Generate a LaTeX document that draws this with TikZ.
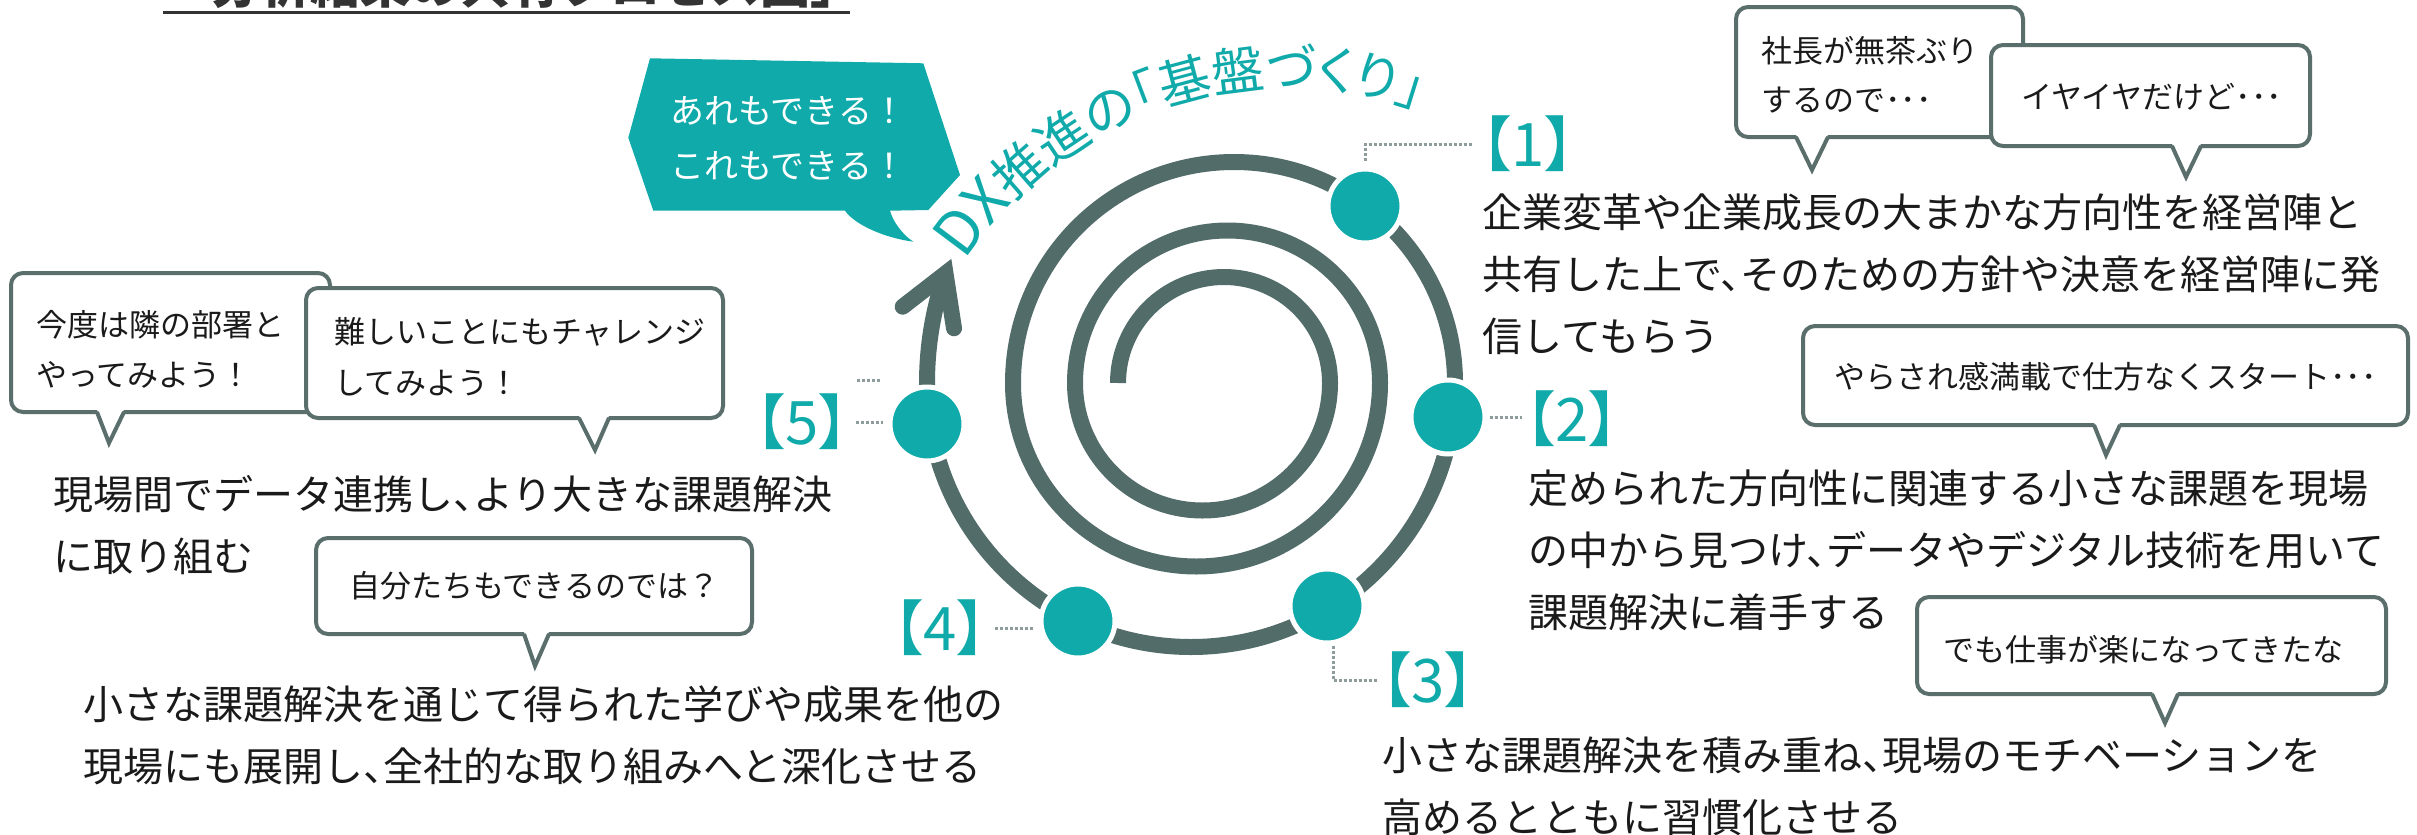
\documentclass[tikz,border=0pt]{standalone}
\usepackage{fontspec}
\setmainfont{Noto Sans CJK JP}
\newfontfamily\jpp[RawFeature=+palt]{Noto Sans CJK JP}
\usetikzlibrary{decorations.text,fit}
\definecolor{teal2}{HTML}{11AAAA}
\definecolor{spiral}{HTML}{526C6A}
\definecolor{balgray}{HTML}{5A6E6C}
\definecolor{dotgray}{HTML}{8E9C9B}
\definecolor{ink}{HTML}{1A1A1A}
\definecolor{titlegray}{HTML}{333333}
\newcommand\jcomma{、\kern-.5em}
\newcommand\mybal[9]{%
  \coordinate (#1nw) at (#2,-#3);
  \coordinate (#1se) at (#4,-#5);
  \node[balframe, fit=(#1nw)(#1se)] (#1) {};
  \coordinate (#1tip) at (#8,-#9);
  \fill[white] (#6,-#5+2.5) -- (#1tip) -- (#7,-#5+2.5) -- cycle;
  \draw[balline] (#6,-#5) -- (#1tip) -- (#7,-#5);
}
\begin{document}
\begin{tikzpicture}[x=1pt,y=1pt,
  spiralline/.style={draw=spiral, line width=16pt, line cap=butt},
  dot/.style={circle, fill=teal2, draw=white, line width=5pt, minimum size=74pt, inner sep=0pt},
  lab/.style={font=\jpp\fontsize{60}{60}\selectfont, text=teal2, inner sep=0pt},
  leader/.style={draw=dotgray, line width=3pt, dash pattern=on 3pt off 2pt},
  body/.style={font=\fontsize{40}{62}\selectfont, text=ink, inner sep=0pt, anchor=base west},
  baltext/.style={font=\fontsize{31}{49}\selectfont, text=ink, inner sep=0pt, anchor=base west},
  balframe/.style={draw=balgray, line width=4pt, rounded corners=12pt, fill=white, inner sep=0pt},
  balline/.style={draw=balgray, line width=4pt, line join=miter},
  title/.style={font=\bfseries\fontsize{50}{50}\selectfont, text=titlegray, inner sep=0pt, anchor=base west}
]
\fill[white] (0,0) rectangle (2417,-835);
\useasboundingbox (0,0) rectangle (2417,-835);

% title (cut at the top)
\begin{scope}
\clip (0,0) rectangle (2417,-835);
\node[title] (ttl) at (160,-4) {「分析結果の共有プロセス図」};
\coordinate (ul1) at (163,-12.5);
\coordinate (ul2) at (850,-12.5);
\draw[titlegray, line width=3pt] (ul1) -- (ul2);
\end{scope}

% spiral
\draw[spiralline] (1118,-383)
  arc[start angle=180, end angle=0, radius=106]
  arc[start angle=0, end angle=-180, radius=127.5]
  arc[start angle=180, end angle=0, radius=152.5]
  arc[start angle=0, end angle=-180, radius=183.5]
  arc[start angle=180, end angle=0, radius=221]
  arc[start angle=0, end angle=-180, radius=264]
  arc[start angle=180, end angle=161, radius=336];
\coordinate (ahL) at (902.7,-306.7);
\coordinate (ahT) at (945.5,-273.5);
\coordinate (ahR) at (954,-328.3);
\draw[draw=spiral, line width=16pt, line cap=round, line join=miter] (ahL) -- (ahT) -- (ahR);

% arced title
\path[decorate, decoration={text along path, text align=center,
  text={|\color{teal2}\jpp\fontsize{60}{60}\selectfont|DX|\color{teal2}\jpp\fontsize{52}{52}\selectfont|推進の「基盤づくり」}}]
  (1290,-478) ++(168.5:391) arc[start angle=168.5, end angle=48.5, radius=391];

% teal callout
\fill[teal2] (650,-58.3) -- (923.3,-63.3) -- (960,-175) -- (928.3,-210) -- (890,-210.7)
  .. controls (893,-222) and (903,-235) .. (913.3,-241.7)
  .. controls (885,-238) and (855,-225) .. (845,-210.7)
  -- (653.3,-210.7) -- (628.3,-137.7) -- cycle;
\node[font=\fontsize{34}{55}\selectfont, text=white, inner sep=0pt, anchor=base west] (call) at (670,-123)
  {\vtop{\hbox{あれもできる！}\hbox{これもできる！}}};

% dots
\node[dot] (d1) at (1365,-206) {};
\node[dot] (d2) at (1448,-417) {};
\node[dot] (d3) at (1327,-606) {};
\node[dot] (d4) at (1078,-621) {};
\node[dot] (d5) at (927,-424) {};

% labels
\node[lab] (l1) at (1528,-144) {【1】};
\node[lab] (l2) at (1572,-419) {【2】};
\node[lab] (l3) at (1428,-680) {【3】};
\node[lab] (l4) at (940,-628) {【4】};
\node[lab] (l5) at (802,-422) {【5】};

% leaders
\draw[leader] ([yshift=6pt]d1.north) |- ([xshift=-8pt]l1.west);
\draw[leader] ([xshift=2pt]d2.east) -- ([xshift=-3pt]d2.east -| l2.west);
\draw[leader] ([xshift=6pt]d3.south) |- ([xshift=-3pt]l3.west);
\draw[leader] ([xshift=8pt]l4.east) -- ([xshift=-4pt]l4.east -| d4.west);
\draw[leader] ([xshift=7pt]l5.east) -- ([xshift=-5pt]l5.east -| d5.west);
\coordinate (s1) at (857,-380);
\coordinate (s2) at (881,-380);
\draw[leader] (s1) -- (s2);

% body texts
\node[body] (t1) at (1482,-227) {\vtop{\hbox{企業変革や企業成長の大まかな方向性を経営陣と}\hbox{共有した上で\jcomma そのための方針や決意を経営陣に発}\hbox{信してもらう}}};
\node[body] (t2) at (1528,-503.5) {\vtop{\hbox{定められた方向性に関連する小さな課題を現場}\hbox{の中から見つけ\jcomma データやデジタル技術を用いて}\hbox{課題解決に着手する}}};
\node[body] (t3) at (1382,-770) {\vtop{\hbox{小さな課題解決を積み重ね\jcomma 現場のモチベーションを}\hbox{高めるとともに習慣化させる}}};
\node[body] (t4) at (83,-719) {\vtop{\hbox{小さな課題解決を通じて得られた学びや成果を他の}\hbox{現場にも展開し\jcomma 全社的な取り組みへと深化させる}}};
\node[body] (t5) at (53,-509.5) {\vtop{\hbox{現場間でデータ連携し\jcomma より大きな課題解決}\hbox{に取り組む}}};

% balloons
\mybal{b1}{1736}{7}{2023}{137}{1796}{1828}{1812}{170}
\node[baltext] (bt1) at (1761,-62) {\vtop{\hbox{社長が無茶ぶり}\hbox{するので･･･}}};
\mybal{b2}{1991}{45}{2310}{146}{2172}{2201}{2186}{177}
\node[baltext] (bt2) at (2021,-108) {イヤイヤだけど･･･};
\mybal{b3}{1803}{326}{2408}{425}{2094}{2120}{2106}{455}
\node[baltext] (bt3) at (1834,-388) {やらされ感満載で仕方なくスタート･･･};
\mybal{b4}{1917}{597}{2386}{694}{2152}{2178}{2165}{723}
\node[baltext] (bt4) at (1943,-661) {でも仕事が楽になってきたな};
\mybal{b5}{11}{273}{330}{412}{97}{124}{109}{443}
\node[baltext] (bt5) at (36,-336) {\vtop{\baselineskip=50pt\hbox{今度は隣の部署と}\hbox{やってみよう！}}};
\mybal{b6}{306}{288}{723}{418}{579}{609}{595}{450}
\node[baltext] (bt6) at (334,-343) {\vtop{\baselineskip=51pt\hbox{難しいことにもチャレンジ}\hbox{してみよう！}}};
\mybal{b7}{316}{538}{752}{634}{524}{549}{535}{666}
\node[baltext] (bt7) at (349,-597) {自分たちもできるのでは？};
\end{tikzpicture}
\end{document}
